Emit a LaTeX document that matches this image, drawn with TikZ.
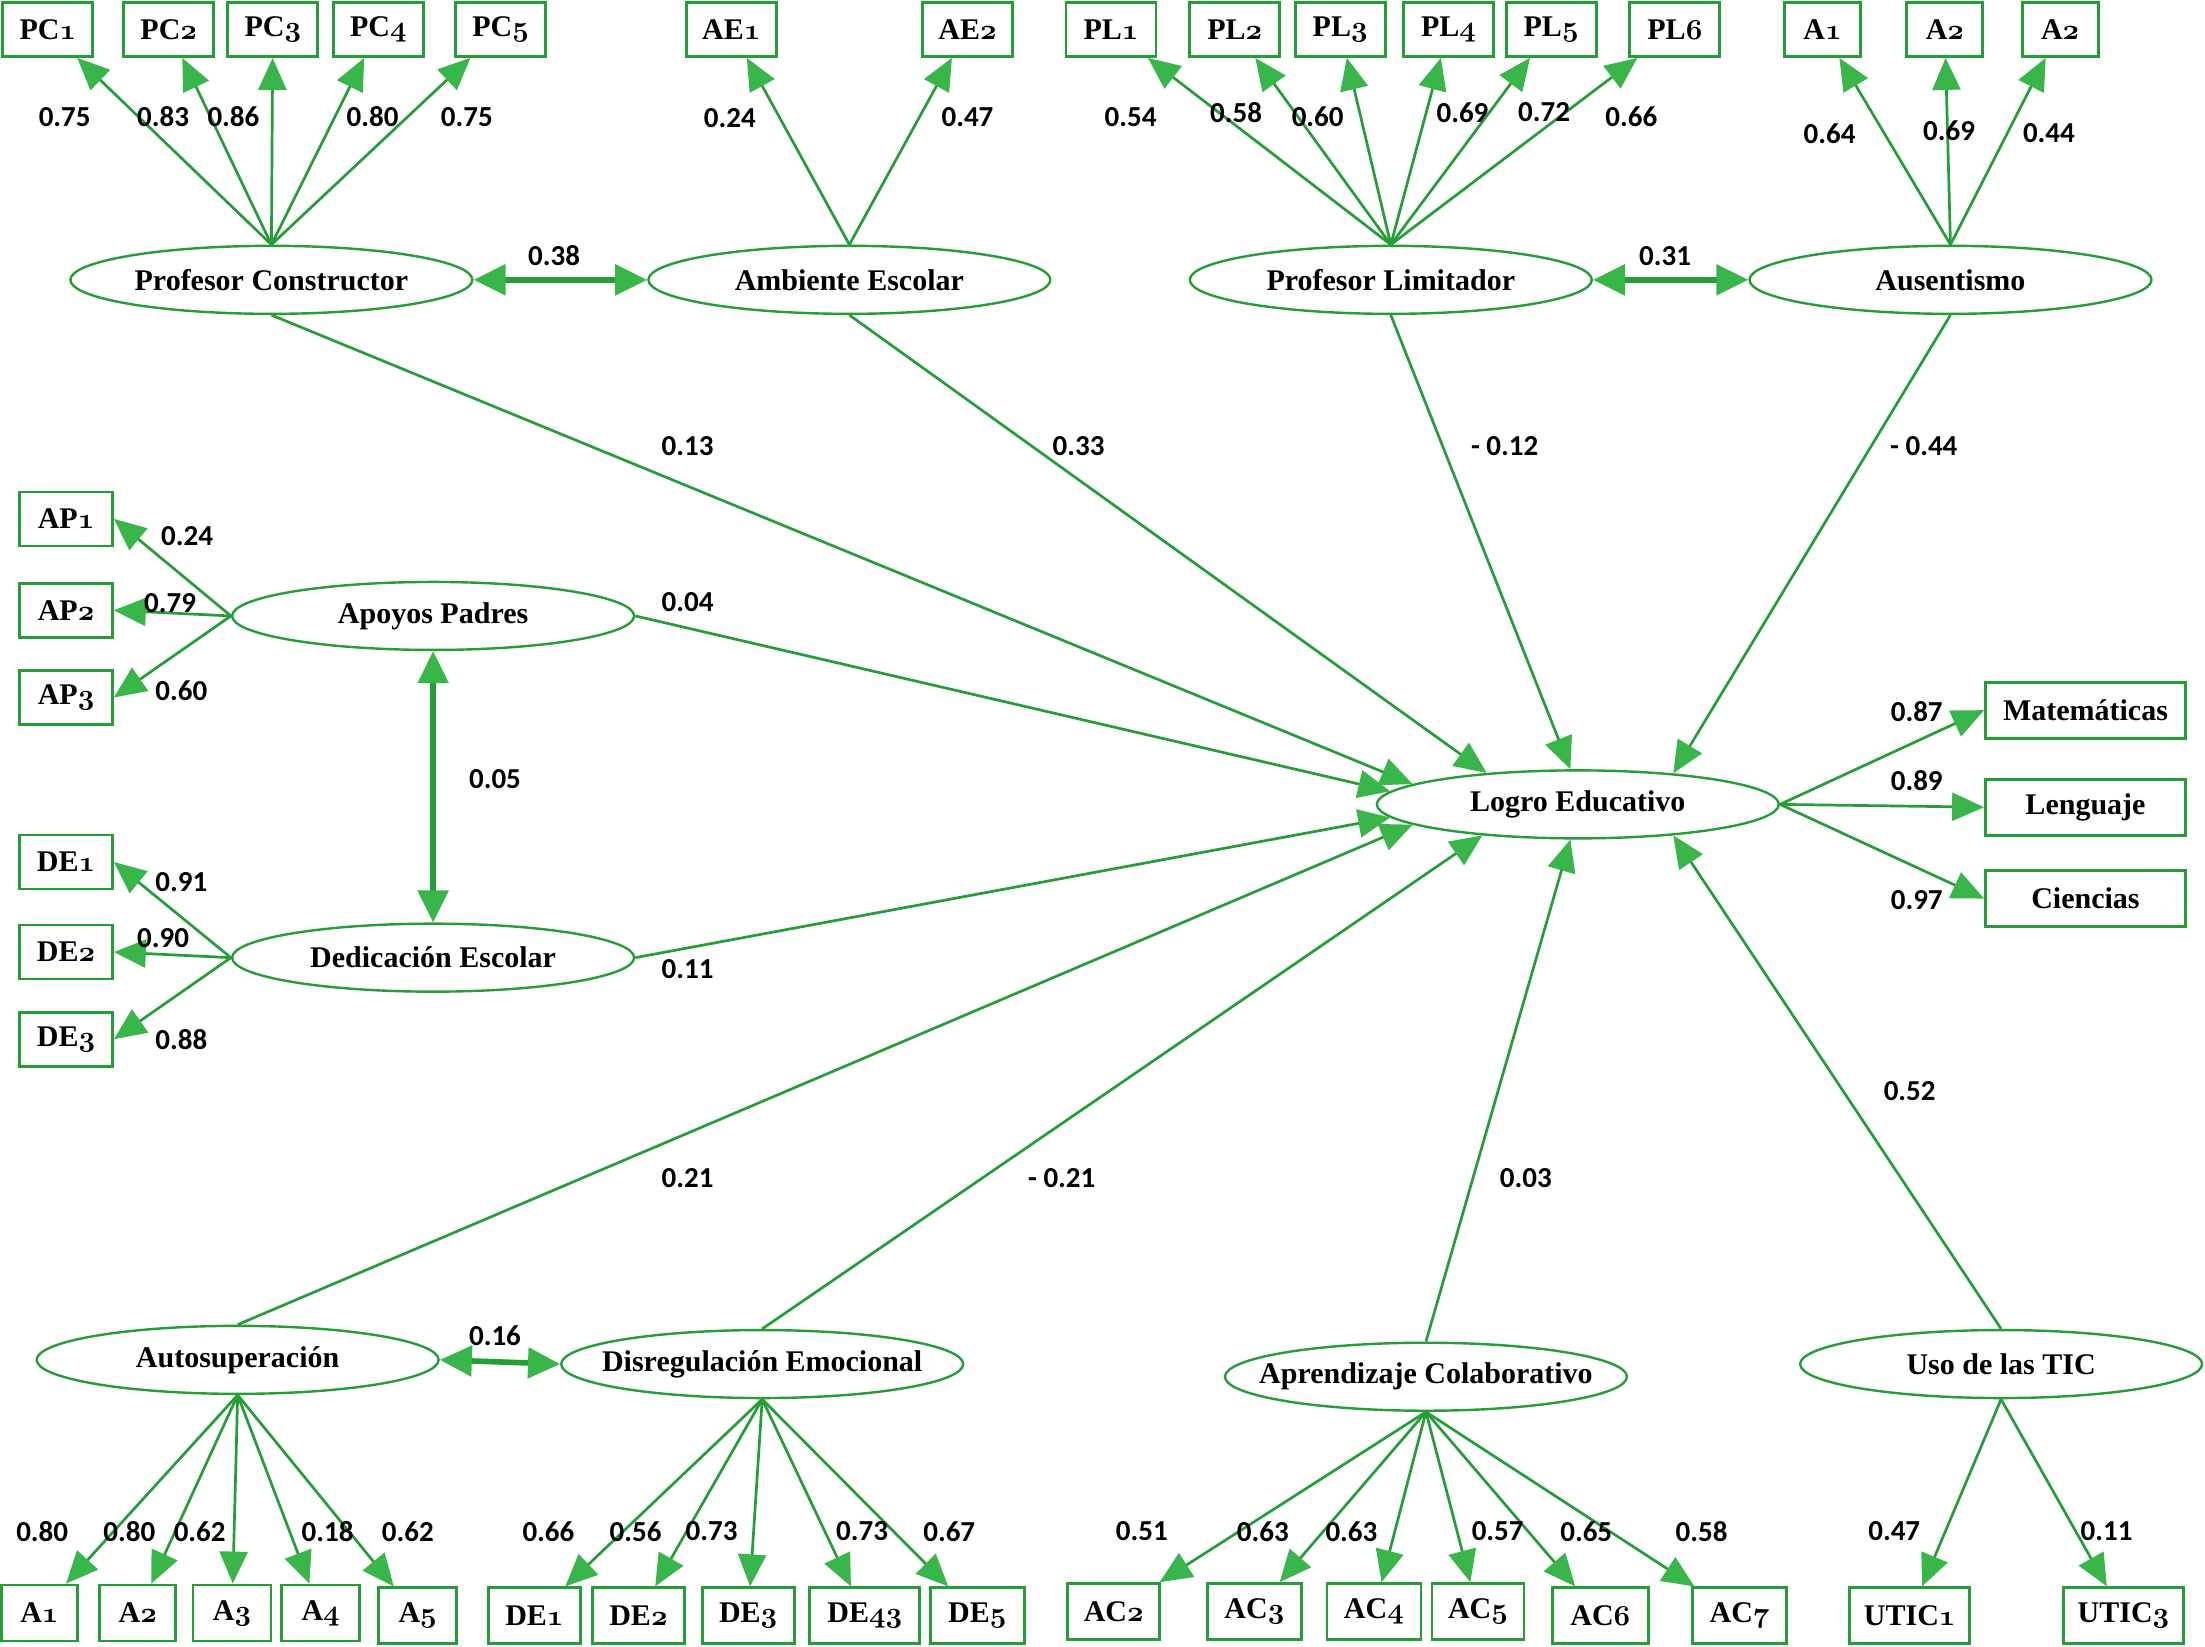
\documentclass[tikz,border=0pt]{standalone}
\usepackage{fontspec}
\setmainfont{Liberation Serif}
\newfontfamily\numfont{Carlito}
\usetikzlibrary{arrows.meta,shapes.geometric}
\definecolor{lineG}{RGB}{38,158,56}
\definecolor{headG}{RGB}{56,182,74}
\newcommand\osn[1]{{\usefont{OML}{cmm}{b}{it}#1}}
\begin{document}
\begin{tikzpicture}[x=0.703125pt,y=-0.703125pt,
 obs/.style={draw=lineG, line width=1.4pt, rectangle, inner sep=0pt, minimum height=27pt, font=\fontsize{15}{18}\selectfont\bfseries, text=black},
 lat/.style={draw=lineG, line width=1.2pt, ellipse, inner xsep=-40pt, inner ysep=0pt, minimum width=201pt, minimum height=34pt, font=\fontsize{15}{18}\selectfont\bfseries},
 num/.style={font=\fontsize{14.5}{16}\selectfont\numfont\bfseries, inner sep=1pt},
 ld/.style={draw=lineG, line width=1.35pt, -{Triangle[length=16pt,width=14pt,color=headG]}},
 cov/.style={draw=lineG, line width=2.8pt, {Triangle[length=16pt,width=15pt,color=headG]}-{Triangle[length=16pt,width=15pt,color=headG]}},
]
\fill[white] (0,0) rectangle (1568,1171);
\useasboundingbox (0,0) rectangle (1568,1171);

% latent variables
\node[lat] (pc) at (193,199) {Profesor Constructor};
\node[lat] (ae) at (604,199) {Ambiente Escolar};
\node[lat] (pl) at (989,199) {Profesor Limitador};
\node[lat] (au) at (1387,199) {Ausentismo};
\node[lat] (ap) at (308,438) {Apoyos Padres};
\node[lat] (de) at (308,681) {Dedicación Escolar};
\node[lat] (le) at (1122,572) {Logro Educativo};
\node[lat] (as) at (169,967) {Autosuperación};
\node[lat] (dr) at (542,970) {Disregulación Emocional};
\node[lat] (ac) at (1014,979) {Aprendizaje Colaborativo};
\node[lat] (ut) at (1423,970) {Uso de las TIC};

% top indicators
\node[obs,minimum width=45pt] (PC1) at (34,21) {PC\osn{1}};
\node[obs,minimum width=45pt] (PC2) at (120,21) {PC\osn{2}};
\node[obs,minimum width=45pt] (PC3) at (194,21) {PC\osn{3}};
\node[obs,minimum width=45pt] (PC4) at (269,21) {PC\osn{4}};
\node[obs,minimum width=45pt] (PC5) at (356,21) {PC\osn{5}};
\node[obs,minimum width=45pt] (AE1) at (520,21) {AE\osn{1}};
\node[obs,minimum width=45pt] (AE2) at (688,21) {AE\osn{2}};
\node[obs,minimum width=45pt] (PL1) at (790,21) {PL\osn{1}};
\node[obs,minimum width=45pt] (PL2) at (878,21) {PL\osn{2}};
\node[obs,minimum width=45pt] (PL3) at (953,21) {PL\osn{3}};
\node[obs,minimum width=45pt] (PL4) at (1030,21) {PL\osn{4}};
\node[obs,minimum width=45pt] (PL5) at (1103,21) {PL\osn{5}};
\node[obs,minimum width=45pt] (PL6) at (1191,21) {PL\osn{6}};
\node[obs,minimum width=38pt] (AU1) at (1296,21) {A\osn{1}};
\node[obs,minimum width=38pt] (AU2) at (1383,21) {A\osn{2}};
\node[obs,minimum width=38pt] (AU3) at (1465,21) {A\osn{2}};

% left indicators
\node[obs,minimum width=46.4pt] (AP1) at (47,369) {AP\osn{1}};
\node[obs,minimum width=46.4pt] (AP2) at (47,434) {AP\osn{2}};
\node[obs,minimum width=46.4pt] (AP3) at (47,496) {AP\osn{3}};
\node[obs,minimum width=46.4pt] (DE1) at (47,613) {DE\osn{1}};
\node[obs,minimum width=46.4pt] (DE2) at (47,677) {DE\osn{2}};
\node[obs,minimum width=46.4pt] (DE3) at (47,739) {DE\osn{3}};

% right indicators
\node[obs,minimum width=100pt,minimum height=28pt] (mat) at (1483,505) {Matemáticas};
\node[obs,minimum width=100pt,minimum height=28pt] (len) at (1483,574) {Lenguaje};
\node[obs,minimum width=100pt,minimum height=28pt] (cie) at (1483,639) {Ciencias};

% bottom indicators
\node[obs,minimum width=38pt,minimum height=28pt] (A1b) at (28,1147) {A\osn{1}};
\node[obs,minimum width=38pt,minimum height=28pt] (A2b) at (98,1147) {A\osn{2}};
\node[obs,minimum width=39pt,minimum height=28pt] (A3b) at (165,1147) {A\osn{3}};
\node[obs,minimum width=39pt,minimum height=28pt] (A4b) at (228,1147) {A\osn{4}};
\node[obs,minimum width=39pt,minimum height=28pt] (A5b) at (297,1149) {A\osn{5}};
\node[obs,minimum width=46pt,minimum height=28pt] (DE1b) at (380,1149) {DE\osn{1}};
\node[obs,minimum width=46pt,minimum height=28pt] (DE2b) at (454,1149) {DE\osn{2}};
\node[obs,minimum width=46pt,minimum height=28pt] (DE3b) at (532,1149) {DE\osn{3}};
\node[obs,minimum width=55pt,minimum height=28pt] (DE43) at (615,1149) {DE\osn{43}};
\node[obs,minimum width=47pt,minimum height=28pt] (DE5b) at (695,1149) {DE\osn{5}};
\node[obs,minimum width=46pt,minimum height=28pt] (AC2) at (792,1146) {AC\osn{2}};
\node[obs,minimum width=47pt,minimum height=28pt] (AC3) at (892,1146) {AC\osn{3}};
\node[obs,minimum width=47pt,minimum height=28pt] (AC4) at (977,1146) {AC\osn{4}};
\node[obs,minimum width=46pt,minimum height=28pt] (AC5) at (1051,1146) {AC\osn{5}};
\node[obs,minimum width=48pt,minimum height=28pt] (AC6) at (1138,1149) {AC\osn{6}};
\node[obs,minimum width=47pt,minimum height=28pt] (AC7) at (1237,1149) {AC\osn{7}};
\node[obs,minimum width=60pt,minimum height=28pt] (UT1) at (1358,1149) {UTIC\osn{1}};
\node[obs,minimum width=60pt,minimum height=28pt] (UT3) at (1510,1149) {UTIC\osn{3}};

% loadings
\foreach \b in {PC1,PC2,PC3,PC4,PC5} \draw[ld] (pc.north) -- (\b);
\foreach \b in {AE1,AE2} \draw[ld] (ae.north) -- (\b);
\foreach \b in {PL1,PL2,PL3,PL4,PL5,PL6} \draw[ld] (pl.north) -- (\b);
\foreach \b in {AU1,AU2,AU3} \draw[ld] (au.north) -- (\b);
\foreach \b in {AP1,AP2,AP3} \draw[ld] (ap.west) -- (\b.east);
\foreach \b in {DE1,DE2,DE3} \draw[ld] (de.west) -- (\b.east);
\foreach \b in {mat,len,cie} \draw[ld] (le.east) -- (\b.west);
\foreach \b in {A1b,A2b,A3b,A4b,A5b} \draw[ld] (as.south) -- (\b);
\foreach \b in {DE1b,DE2b,DE3b,DE43,DE5b} \draw[ld] (dr.south) -- (\b);
\foreach \b in {AC2,AC3,AC4,AC5,AC6,AC7} \draw[ld] (ac.south) -- (\b);
\foreach \b in {UT1,UT3} \draw[ld] (ut.south) -- (\b);

% structural paths
\draw[ld] (pc.south) -- (le.173);
\draw[ld] (ae.south) -- (le.161);
\draw[ld] (pl.south) -- (le.102);
\draw[ld] (au.south) -- (le.18);
\draw[ld] (ap.east) -- (le.176);
\draw[ld] (de.east) -- (le.184);
\draw[ld] (as.north) -- (le.187);
\draw[ld] (dr.north) -- (le.198);
\draw[ld] (ac.north) -- (le.258);
\draw[ld] (ut.north) -- (le.342);

% covariances
\draw[cov] (pc.east) -- (ae.west);
\draw[cov] (pl.east) -- (au.west);
\draw[cov] (ap.south) -- (de.north);
\draw[cov] (as.east) -- (dr.west);

% labels
\node[num] (n1) at (46,83) {0.75};
\node[num] (n2) at (116,83) {0.83};
\node[num] (n3) at (166,83) {0.86};
\node[num] (n4) at (265,83) {0.80};
\node[num] (n5) at (332,83) {0.75};
\node[num] (n6) at (519,84) {0.24};
\node[num] (n7) at (688,83) {0.47};
\node[num] (n8) at (804,83) {0.54};
\node[num] (n9) at (879,80) {0.58};
\node[num] (n10) at (937,83) {0.60};
\node[num] (n11) at (1040,80) {0.69};
\node[num] (n12) at (1098,80) {0.72};
\node[num] (n13) at (1160,83) {0.66};
\node[num] (n14) at (1301,95) {0.64};
\node[num] (n15) at (1386,93) {0.69};
\node[num] (n16) at (1457,95) {0.44};
\node[num] (n17) at (394,182) {0.38};
\node[num] (n18) at (1184,182) {0.31};
\node[num] (n19) at (133,381) {0.24};
\node[num] (n20) at (121,429) {0.79};
\node[num] (n21) at (129,491) {0.60};
\node[num] (n22) at (129,627) {0.91};
\node[num] (n23) at (116,667) {0.90};
\node[num] (n24) at (129,739) {0.88};
\node[num] (n25) at (352,554) {0.05};
\node[num] (n26) at (489,317) {0.13};
\node[num] (n27) at (767,317) {0.33};
\node[num] (n28) at (1070,317) {- 0.12};
\node[num] (n29) at (1368,317) {- 0.44};
\node[num] (n30) at (489,428) {0.04};
\node[num] (n31) at (489,689) {0.11};
\node[num] (n32) at (1363,506) {0.87};
\node[num] (n33) at (1363,555) {0.89};
\node[num] (n34) at (1363,640) {0.97};
\node[num] (n35) at (1358,776) {0.52};
\node[num] (n36) at (489,838) {0.21};
\node[num] (n37) at (755,838) {- 0.21};
\node[num] (n38) at (1085,838) {0.03};
\node[num] (n39) at (352,950) {0.16};
\node[num] (n40) at (30,1089) {0.80};
\node[num] (n41) at (92,1089) {0.80};
\node[num] (n42) at (142,1089) {0.62};
\node[num] (n43) at (233,1089) {0.18};
\node[num] (n44) at (290,1089) {0.62};
\node[num] (n45) at (390,1089) {0.66};
\node[num] (n46) at (452,1089) {0.56};
\node[num] (n47) at (506,1089) {0.73};
\node[num] (n48) at (613,1089) {0.73};
\node[num] (n49) at (675,1089) {0.67};
\node[num] (n50) at (812,1089) {0.51};
\node[num] (n51) at (898,1089) {0.63};
\node[num] (n52) at (961,1089) {0.63};
\node[num] (n53) at (1065,1089) {0.57};
\node[num] (n54) at (1128,1089) {0.65};
\node[num] (n55) at (1210,1089) {0.58};
\node[num] (n56) at (1347,1089) {0.47};
\node[num] (n57) at (1498,1089) {0.11};
\end{tikzpicture}
\end{document}
